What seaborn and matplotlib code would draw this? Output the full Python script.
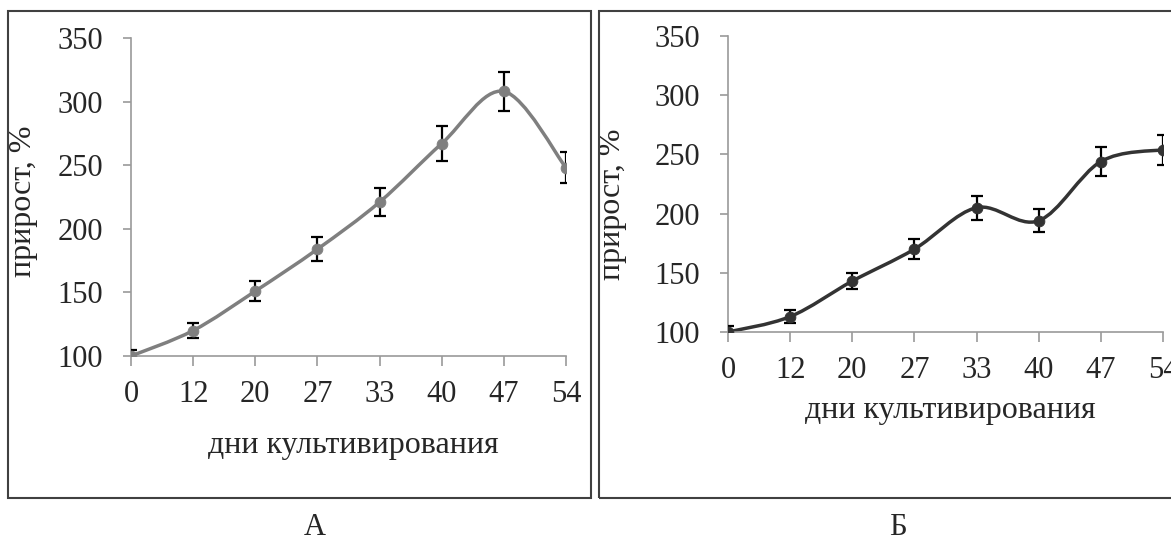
import numpy as np
import pandas as pd
import seaborn as sns
import matplotlib.pyplot as plt
from matplotlib.path import Path
from matplotlib.patches import PathPatch, Rectangle

# data
days = ["0", "12", "20", "27", "33", "40", "47", "54"]
growth_a = [100, 120, 151, 184, 221, 267, 308, 248]
err_a = [5, 6, 7.6, 9.6, 11, 13.5, 15.6, 12]
growth_b = [100, 113, 143, 170, 205, 194, 244, 254]
err_b = [5, 5.6, 7, 8.7, 10, 9.7, 12.3, 12.6]
yticks = [100, 150, 200, 250, 300, 350]

sns.set_style("ticks")
plt.rcParams['font.family'] = ['Liberation Serif', 'DejaVu Serif']
plt.rcParams['font.size'] = 22


def smooth_path(xs, ys):
    # excel-like smoothed line: catmull-rom segments as cubic beziers
    pts = np.column_stack([xs, ys]).astype(float)
    ext = np.vstack([pts[0], pts, pts[-1]])
    verts = [pts[0]]
    codes = [Path.MOVETO]
    for i in range(len(pts) - 1):
        p0, p1, p2, p3 = ext[i], ext[i + 1], ext[i + 2], ext[i + 3]
        verts += [p1 + (p2 - p0) / 6, p2 - (p3 - p1) / 6, p2]
        codes += [Path.CURVE4] * 3
    return Path(verts, codes)


def draw_panel(ax, vals, errs, color, ylab_xy, xlab_y):
    df = pd.DataFrame({"day": days, "growth": vals})
    pos = np.arange(len(days))
    ax.add_patch(PathPatch(smooth_path(pos, vals), facecolor="none",
                           edgecolor=color, lw=2.5, zorder=2))
    ax.errorbar(pos, vals, yerr=errs, fmt="none", ecolor="black",
                elinewidth=1.6, capsize=4.5, capthick=1.6, zorder=3)
    sns.scatterplot(data=df, x="day", y="growth", ax=ax, color=color,
                    s=60, edgecolor=color, zorder=4, legend=False)
    ax.set_xlim(0, len(days) - 1)
    ax.set_ylim(100, 350)
    ax.set_yticks(yticks)
    ax.set_xticks(pos)
    ax.set_xticklabels(days)
    sns.despine(ax=ax)
    for s in ["left", "bottom"]:
        ax.spines[s].set_color("#9a9a9a")
        ax.spines[s].set_linewidth(1.2)
    ax.tick_params(axis="x", length=7, width=1.2, color="#9a9a9a", pad=10,
                   direction="out", labelsize=22)
    ax.tick_params(axis="y", length=6, width=1.2, color="#9a9a9a", pad=14,
                   direction="out", labelsize=22)
    ax.set_xlabel("дни культивирования", fontsize=23)
    ax.set_ylabel("прирост, %", fontsize=23)
    ax.xaxis.set_label_coords(0.51, xlab_y)
    ax.yaxis.set_label_coords(ylab_xy[0], ylab_xy[1])
    ax.patch.set_alpha(0)


fig = plt.figure(figsize=(11.71, 5.42), dpi=100)

# panel frames
fig.patches.append(Rectangle((7.5 / 1171, 1 - 497.7 / 542), 583 / 1171, 486.7 / 542,
                             transform=fig.transFigure, fill=False,
                             edgecolor="#404040", lw=1.5))
fig.patches.append(Rectangle((599.3 / 1171, 1 - 497.7 / 542), 600 / 1171, 486.7 / 542,
                             transform=fig.transFigure, fill=False,
                             edgecolor="#404040", lw=1.5))

ax1 = fig.add_axes([131 / 1171, 1 - 356 / 542, 435 / 1171, 318 / 542])
ax2 = fig.add_axes([728 / 1171, 1 - 332 / 542, 435 / 1171, 296 / 542])

draw_panel(ax1, growth_a, err_a, "#7f7f7f", (-0.214, 0.487), -0.235)
draw_panel(ax2, growth_b, err_b, "#333333", (-0.232, 0.432), -0.215)

fig.text(315 / 1171, 1 - 535 / 542, "А", ha="center", va="baseline", fontsize=22)
fig.text(898 / 1171, 1 - 535 / 542, "Б", ha="center", va="baseline", fontsize=22)

fig.savefig("out.png", dpi=100)
